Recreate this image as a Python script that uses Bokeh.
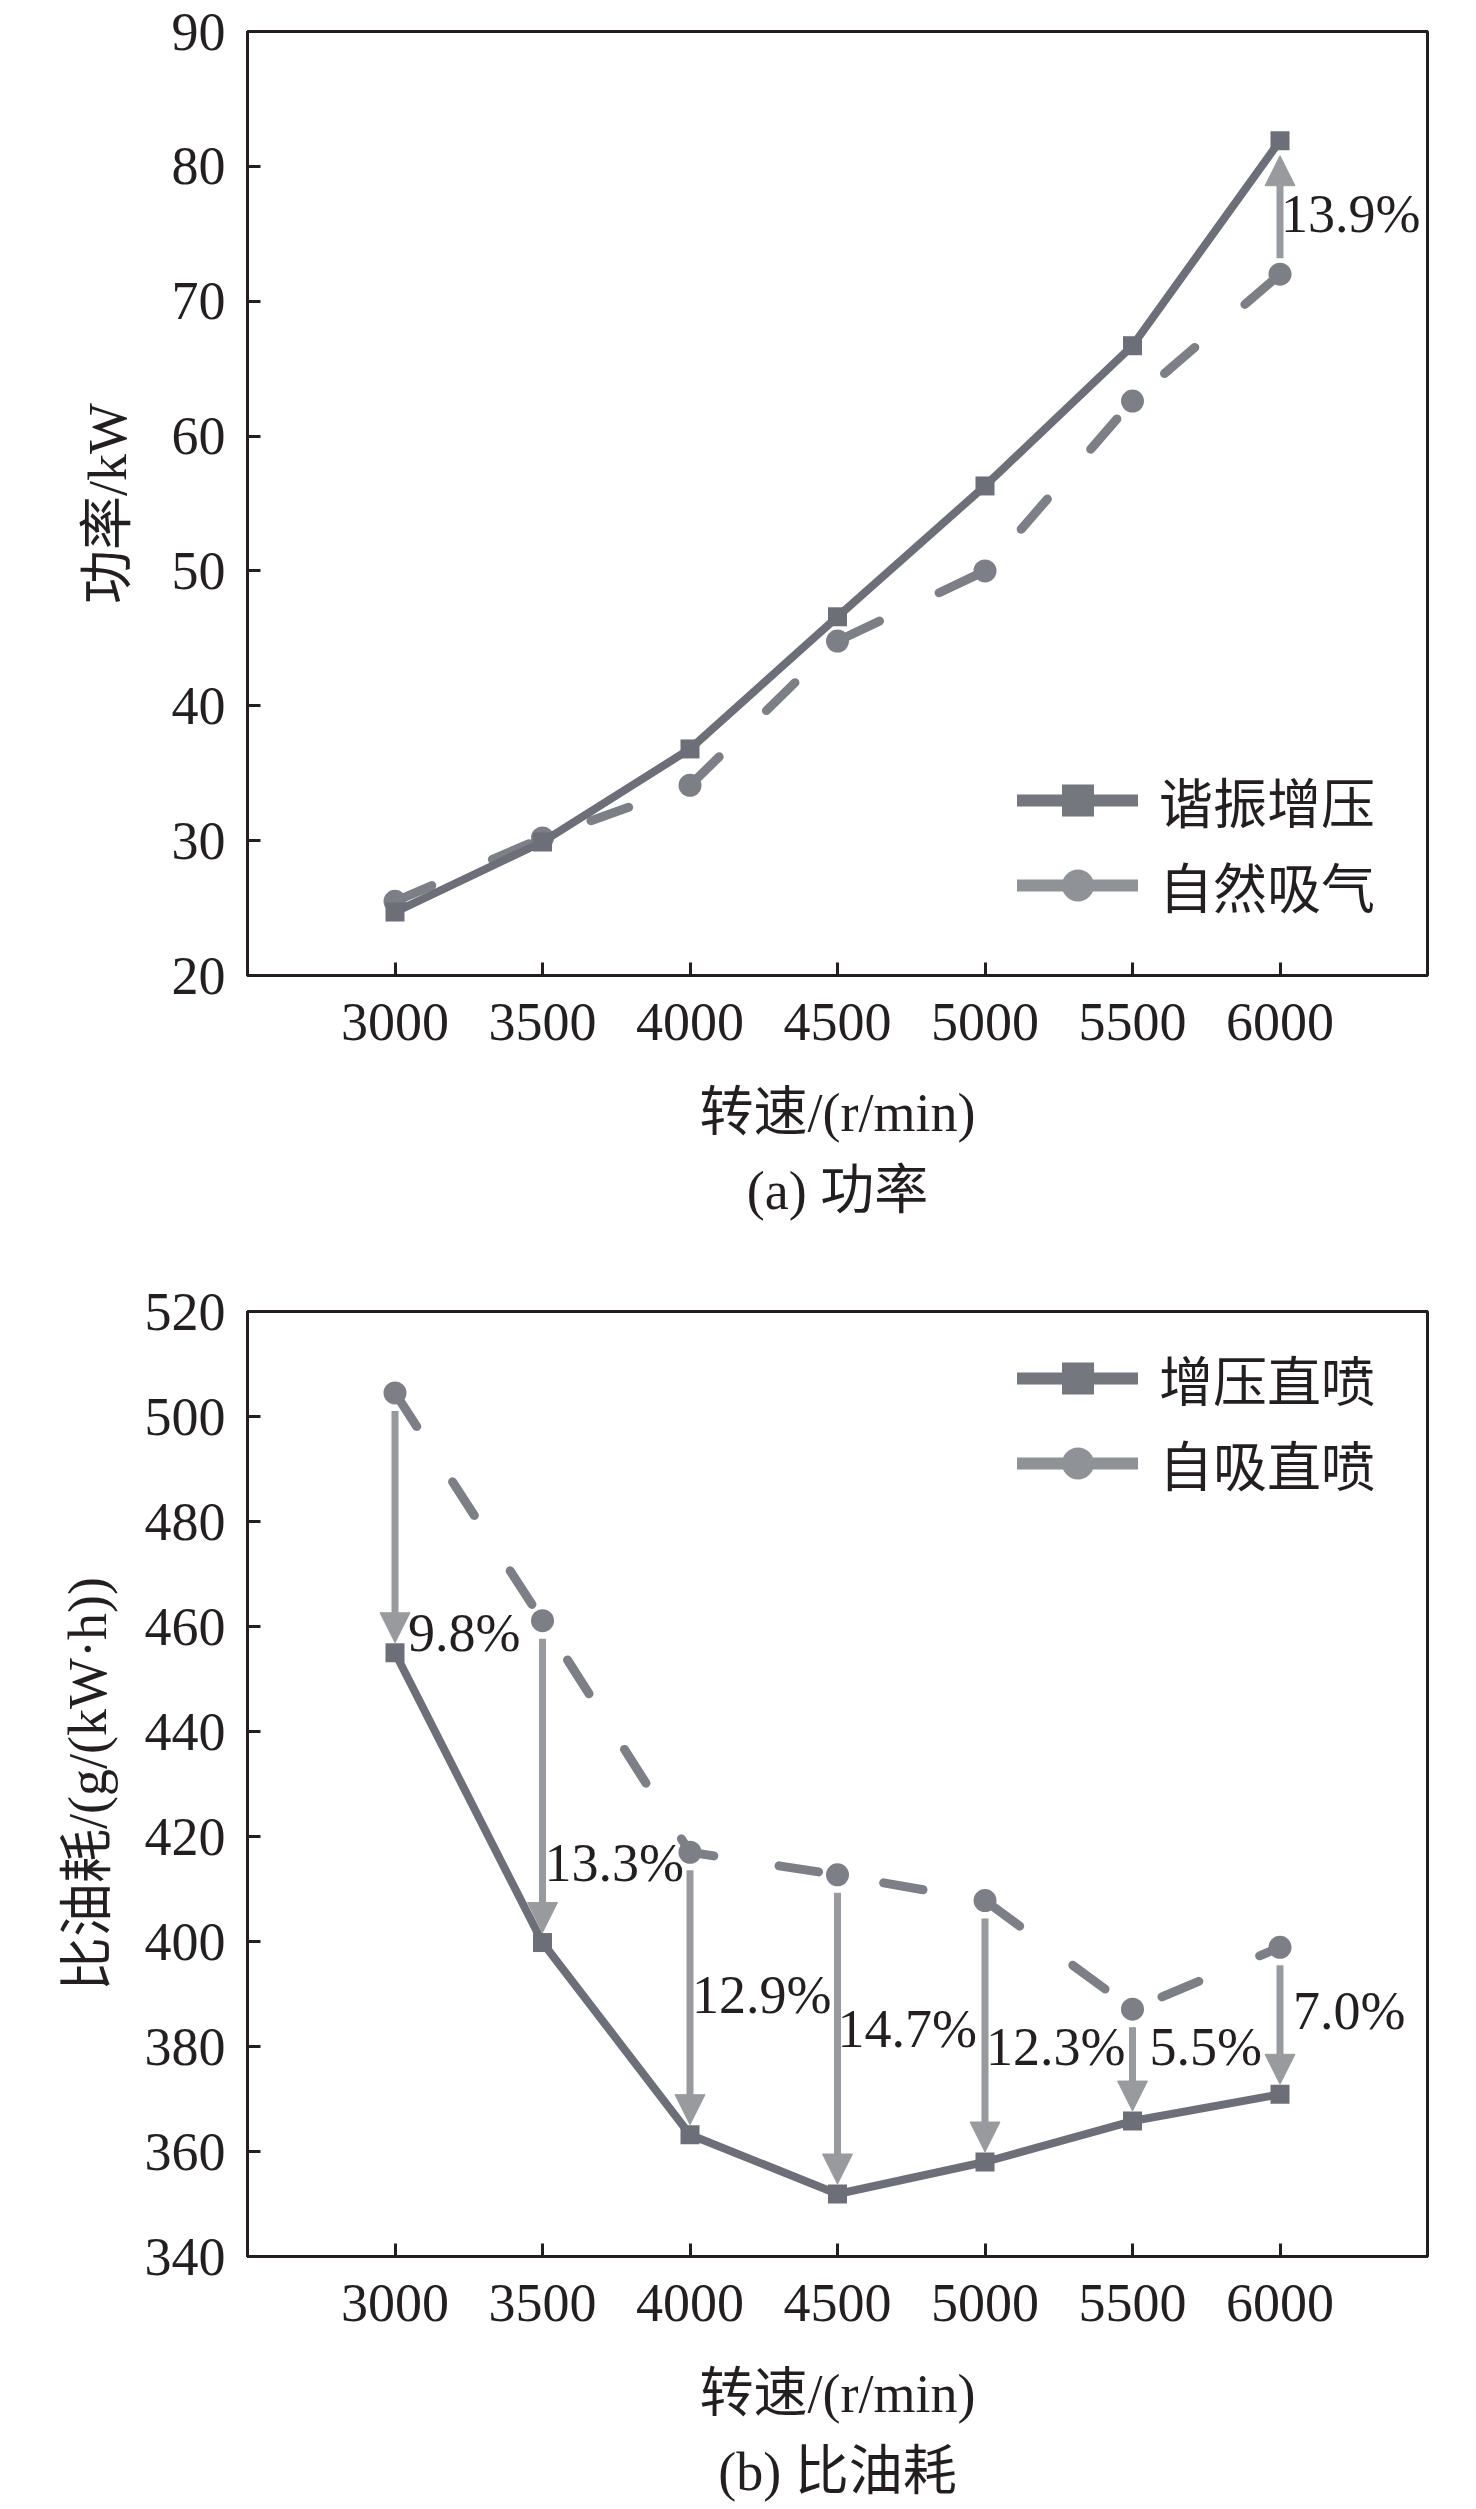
from bokeh.plotting import figure
from bokeh.models import (Arrow, NormalHead, Legend, LegendItem, Title,
                          FixedTicker, ColumnDataSource)
from bokeh.layouts import column
from bokeh.core.properties import value
from bokeh.embed import file_html
from bokeh.resources import INLINE

# ---------------- data ----------------
speed = [3000, 3500, 4000, 4500, 5000, 5500, 6000]

power_resonance = [24.7, 29.9, 36.8, 46.6, 56.3, 66.7, 81.9]   # 谐振增压
power_natural = [25.5, 30.2, 34.1, 44.8, 50.0, 62.6, 72.0]     # 自然吸气
power_pct = ["13.9%"]
power_pct_y = [76.5]

bsfc_turbo = [455.0, 399.8, 363.2, 351.9, 358.0, 365.8, 370.9]   # 增压直喷
bsfc_natural = [504.5, 461.1, 417.0, 412.7, 407.8, 387.1, 398.9] # 自吸直喷
bsfc_pct = ["9.8%", "13.3%", "12.9%", "14.7%", "12.3%", "5.5%", "7.0%"]
bsfc_pct_y = [458.8, 414.9, 389.9, 383.3, 379.9, 379.9, 386.8]
bsfc_pct_dx = [13, 2, 2, 0, 1, 17, 13]

x_ticks = [3000, 3500, 4000, 4500, 5000, 5500, 6000]
power_ticks = [20, 30, 40, 50, 60, 70, 80, 90]
bsfc_ticks = [340, 360, 380, 400, 420, 440, 460, 480, 500, 520]

# ---------------- styles ----------------
FONT = "'Liberation Serif', 'Noto Sans CJK SC'"
TXT = "#231f20"
C_SOLID = "#6c6f77"
C_DASH = "#7c7f85"
C_ARROW = "#989a9d"
C_LEG1 = "#74777d"
C_LEG2 = "#8f9296"
FS = "54px"


def base_fig(y_range, yticks, ylabel, caption, top, fh, bottom, ylab_off):
    p = figure(frame_width=1180, frame_height=fh,
               min_border_left=247, min_border_right=41,
               min_border_top=top, min_border_bottom=bottom,
               x_range=(2500, 6500), y_range=y_range,
               output_backend="svg", toolbar_location=None,
               background_fill_color="white", border_fill_color="white")
    p.grid.visible = False
    p.outline_line_color = TXT
    p.outline_line_width = 3
    p.outline_line_alpha = 1
    for ax in (p.xaxis, p.yaxis):
        ax.axis_line_color = TXT
        ax.axis_line_width = 3
        ax.major_tick_line_color = TXT
        ax.major_tick_line_width = 3
        ax.major_tick_in = 13
        ax.major_tick_out = 0
        ax.minor_tick_line_color = None
        ax.major_label_text_font = FONT
        ax.major_label_text_font_size = FS
        ax.major_label_text_color = TXT
        ax.axis_label_text_font = FONT
        ax.axis_label_text_font_size = FS
        ax.axis_label_text_font_style = "normal"
        ax.axis_label_text_color = TXT
    p.xaxis.ticker = FixedTicker(ticks=x_ticks)
    p.yaxis.ticker = FixedTicker(ticks=yticks)
    p.xaxis.major_label_standoff = 28
    p.yaxis.major_label_standoff = 22
    p.xaxis.axis_label = "转速/(r/min)"
    p.xaxis.axis_label_standoff = 40
    p.yaxis.axis_label = ylabel
    p.yaxis.axis_label_standoff = ylab_off
    t = Title(text=caption, align="center", text_font=FONT,
              text_font_size=FS, text_font_style="normal", text_color=TXT,
              standoff=27)
    p.add_layout(t, "below")
    return p


def series(p, y_solid, y_dash, lab1, lab2, loc):
    p.line(speed, y_dash, line_color=C_DASH, line_width=9,
           line_dash="40 66", line_cap="round", line_join="round")
    p.scatter(speed, y_dash, marker="circle", size=23,
              fill_color=C_DASH, line_color=None)
    p.line(speed, y_solid, line_color=C_SOLID, line_width=8,
           line_join="round")
    p.scatter(speed, y_solid, marker="square", size=19,
              fill_color=C_SOLID, line_color=None)
    # legend proxies (hidden in the plot, drawn only in the legend)
    l1 = p.line(speed, y_solid, line_color=C_LEG1, line_width=12,
                line_cap="round", visible=False)
    m1 = p.scatter(speed, y_solid, marker="square", size=19,
                   fill_color=C_LEG1, line_color=None, visible=False)
    l2 = p.line(speed, y_dash, line_color=C_LEG2, line_width=12,
                line_cap="round", visible=False)
    m2 = p.scatter(speed, y_dash, marker="circle", size=22,
                   fill_color=C_LEG2, line_color=None, visible=False)
    leg = Legend(items=[LegendItem(label=lab1, renderers=[l1, m1]),
                        LegendItem(label=lab2, renderers=[l2, m2])],
                 location=loc, glyph_width=121, glyph_height=80,
                 label_height=80, label_standoff=21, spacing=5,
                 padding=0, margin=0, border_line_color=None,
                 background_fill_alpha=0, inactive_fill_alpha=0,
                 click_policy="none",
                 label_text_font=FONT, label_text_font_size=FS,
                 label_text_color=TXT)
    p.add_layout(leg)


# ---------------- (a) power ----------------
p1 = base_fig((20, 90), power_ticks, "功率/kW", "(a) 功率", 31, 944, 275, 31)
series(p1, power_resonance, power_natural, "谐振增压", "自然吸气", (770, 50))

PX1 = 944 / 70.0
a1 = ColumnDataSource(dict(x0=[speed[-1]], y0=[power_natural[-1] + 16 / PX1],
                           x1=[speed[-1]], y1=[power_resonance[-1] - 15 / PX1]))
p1.add_layout(Arrow(end=NormalHead(size=30, fill_color=C_ARROW,
                                   line_color=C_ARROW, line_width=1),
                    x_start="x0", y_start="y0", x_end="x1", y_end="y1",
                    line_color=C_ARROW, line_width=7, source=a1))
p1.text(x=[speed[-1]], y=power_pct_y, text=power_pct, x_offset=1,
        text_font=value(FONT), text_font_size=FS, text_color=TXT,
        text_baseline="middle", text_align="left")

# ---------------- (b) BSFC ----------------
p2 = base_fig((340, 520), bsfc_ticks, "比油耗/(g/(kW·h))", "(b) 比油耗",
              61, 945, 250, 24)
series(p2, bsfc_turbo, bsfc_natural, "增压直喷", "自吸直喷", (770, 753))

PX2 = 945 / 180.0
a2 = ColumnDataSource(dict(x0=speed, y0=[v - 18 / PX2 for v in bsfc_natural],
                           x1=speed, y1=[v + 10 / PX2 for v in bsfc_turbo]))
p2.add_layout(Arrow(end=NormalHead(size=30, fill_color=C_ARROW,
                                   line_color=C_ARROW, line_width=1),
                    x_start="x0", y_start="y0", x_end="x1", y_end="y1",
                    line_color=C_ARROW, line_width=7, source=a2))
t2 = ColumnDataSource(dict(x=speed, y=bsfc_pct_y, t=bsfc_pct, dx=bsfc_pct_dx))
p2.text(x="x", y="y", text="t", x_offset="dx", source=t2,
        text_font=value(FONT), text_font_size=FS, text_color=TXT,
        text_baseline="middle", text_align="left")

layout = column(p1, p2, spacing=0)
open("out.html", "w").write(file_html(layout, INLINE))
